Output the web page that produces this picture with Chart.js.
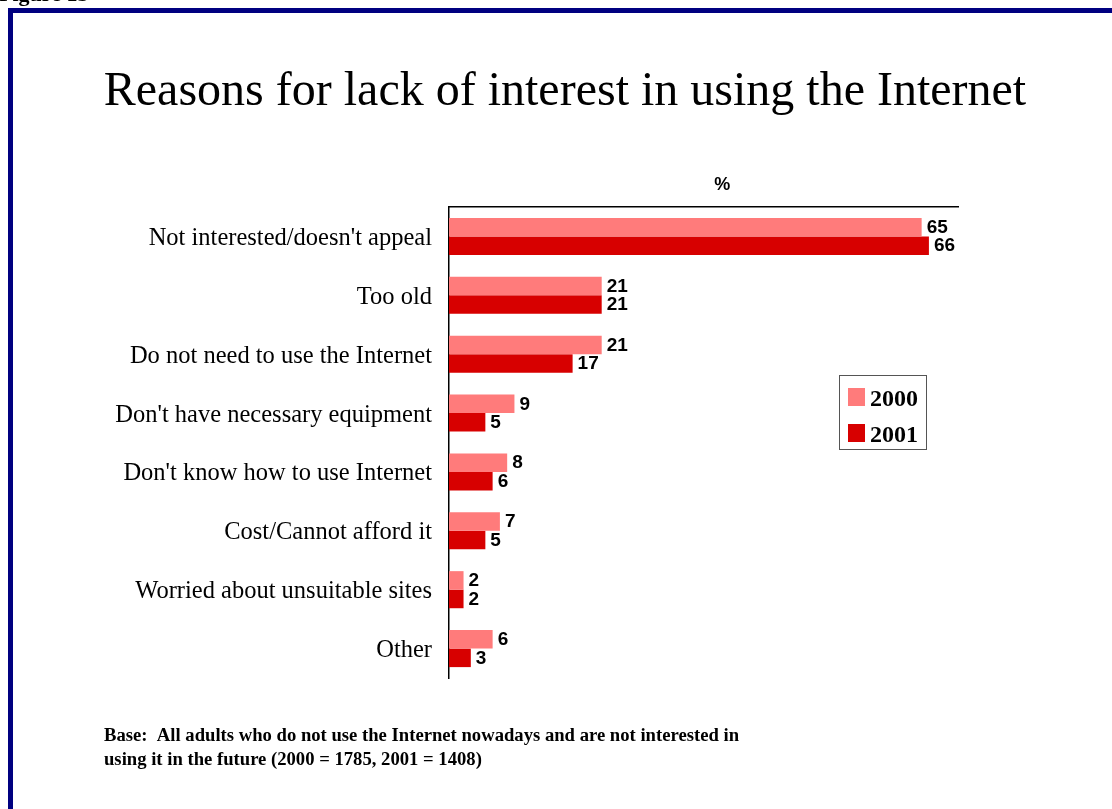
<!DOCTYPE html>
<html>
<head>
<meta charset="utf-8">
<script src="https://cdn.jsdelivr.net/npm/chart.js@4.4.1/dist/chart.umd.min.js"></script>
<style>
  html, body { margin: 0; padding: 0; background: #ffffff; }
  #wrap { position: relative; width: 1112px; height: 809px; }
</style>
</head>
<body>
<div id="wrap"><canvas id="c" width="1112" height="809"></canvas></div>
<script>
const categories = [
  "Not interested/doesn't appeal",
  "Too old",
  "Do not need to use the Internet",
  "Don't have necessary equipment",
  "Don't know how to use Internet",
  "Cost/Cannot afford it",
  "Worried about unsuitable sites",
  "Other"
];
const values2000 = [65, 21, 21, 9, 8, 7, 2, 6];
const values2001 = [66, 21, 17, 5, 6, 5, 2, 3];
const seriesNames = ["2000", "2001"];
const titleText = "Reasons for lack of interest in using the Internet";
const axisUnit = "%";
const figureLabel = "Figure 15";
const footnoteLines = [
  "Base:  All adults who do not use the Internet nowadays and are not interested in",
  "using it in the future (2000 = 1785, 2001 = 1408)"
];

const SERIF = '"Liberation Serif", "Times New Roman", serif';
const SANS = '"Liberation Sans", Arial, sans-serif';

const decorPlugin = {
  id: 'decor',
  beforeDraw(chart) {
    const ctx = chart.ctx;
    ctx.save();
    ctx.fillStyle = '#ffffff';
    ctx.fillRect(0, 0, chart.width, chart.height);
    // frame
    ctx.fillStyle = '#000080';
    ctx.fillRect(8, 8, chart.width - 8, 5);
    ctx.fillRect(8, 8, 5, chart.height - 8);
    // figure label (cut off at top)
    ctx.fillStyle = '#000';
    ctx.font = 'bold 22px ' + SERIF;
    ctx.textAlign = 'left';
    ctx.textBaseline = 'alphabetic';
    ctx.fillText(figureLabel, -1, 1);
    // title
    ctx.font = '48px ' + SERIF;
    ctx.textAlign = 'center';
    ctx.fillText(titleText, 565, 105);
    // unit label
    const a = chart.chartArea;
    ctx.font = 'bold 18px ' + SANS;
    ctx.fillText(axisUnit, a.left + (a.right - a.left) * 0.537, 190);
    // footnote (condensed bold serif)
    ctx.font = 'bold 18px ' + SERIF;
    ctx.textAlign = 'left';
    const w0 = ctx.measureText(footnoteLines[0]).width;
    const sx = 635 / w0;
    footnoteLines.forEach((l, i) => {
      ctx.save();
      ctx.translate(104, 741 + i * 24);
      ctx.scale(sx, 1);
      ctx.fillText(l, 0, 0);
      ctx.restore();
    });
    ctx.restore();
  },
  afterDatasetsDraw(chart) {
    const ctx = chart.ctx;
    ctx.save();
    ctx.font = 'bold 19px ' + SANS;
    ctx.fillStyle = '#000';
    ctx.textAlign = 'left';
    ctx.textBaseline = 'middle';
    chart.data.datasets.forEach((ds, di) => {
      const meta = chart.getDatasetMeta(di);
      meta.data.forEach((bar, i) => {
        ctx.fillText(String(ds.data[i]), bar.x + 5, bar.y + 0.5);
      });
    });
    // legend
    const bx = 839, by = 375, bw = 87, bh = 74;
    ctx.strokeStyle = '#555';
    ctx.lineWidth = 1;
    ctx.strokeRect(bx + 0.5, by + 0.5, bw, bh);
    ctx.font = 'bold 24px ' + SERIF;
    ctx.textBaseline = 'alphabetic';
    chart.data.datasets.forEach((ds, di) => {
      const y = 388 + di * 36;
      ctx.fillStyle = ds.backgroundColor;
      ctx.fillRect(848, y, 17, 18);
      ctx.fillStyle = '#000';
      ctx.fillText(ds.label, 870, y + 18);
    });
    ctx.restore();
  }
};

new Chart(document.getElementById('c'), {
  type: 'bar',
  data: {
    labels: categories,
    datasets: [
      { label: seriesNames[0], data: values2000, backgroundColor: '#FF7B7B', categoryPercentage: 0.63, barPercentage: 1 },
      { label: seriesNames[1], data: values2001, backgroundColor: '#D70000', categoryPercentage: 0.63, barPercentage: 1 }
    ]
  },
  options: {
    indexAxis: 'y',
    responsive: false,
    animation: false,
    layout: { padding: { left: 0, right: 154, top: 207, bottom: 131 } },
    plugins: { legend: { display: false }, title: { display: false }, tooltip: { enabled: false } },
    scales: {
      x: {
        position: 'top',
        min: 0, max: 70,
        grid: { display: false },
        border: { display: true, color: '#000', width: 1.5 },
        ticks: { display: false },
        afterFit(s) { s.height = 0; }
      },
      y: {
        grid: { display: false },
        border: { display: true, color: '#000', width: 1.5 },
        ticks: { color: '#000', padding: 9, labelOffset: 2, font: { family: SERIF, size: 24.5 } },
        afterFit(s) { s.width = 449; }
      }
    }
  },
  plugins: [decorPlugin]
});
</script>
</body>
</html>
